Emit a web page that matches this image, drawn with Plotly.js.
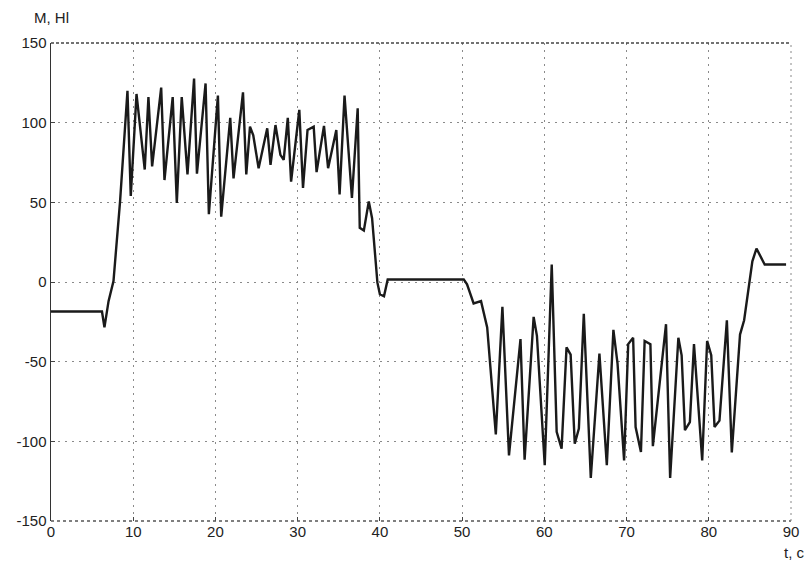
<!DOCTYPE html>
<html>
<head>
<meta charset="utf-8">
<script src="https://cdn.plot.ly/plotly-3.0.1.min.js"></script>
<style>html,body{margin:0;padding:0;background:#fff;}#chart{width:807px;height:566px;}</style>
</head>
<body>
<div id="chart"></div>
<script>
const timeS = [0,6.2,6.5,7.0,7.6,8.4,9.3,9.7,10.4,11.4,11.85,12.3,13.4,13.8,14.8,15.3,15.9,16.6,17.4,17.75,18.8,19.2,20.3,20.7,21.8,22.2,23.35,23.75,24.2,24.6,25.25,26.3,26.7,27.3,27.9,28.3,28.8,29.2,30.2,30.65,31.2,31.95,32.3,33.2,33.7,34.7,35.1,35.7,36.6,37.3,37.55,38.05,38.65,39.05,39.7,40.0,40.5,40.95,50.2,50.6,51.4,52.3,53.05,54.1,54.9,55.7,57.1,57.6,58.7,59.1,60.05,60.9,61.5,62.1,62.7,63.2,63.7,64.2,64.8,65.65,66.7,67.6,68.4,68.9,69.7,70.2,70.8,71.1,71.75,72.2,72.9,73.2,74.8,75.3,76.3,76.7,77.1,77.7,78.2,79.2,79.8,80.3,80.7,81.3,82.2,82.8,83.8,84.3,85.3,85.8,86.8,89.4];
const momentNm = [-18.5,-18.5,-28.5,-12,0.6,50.6,120,54,118,70.6,116,72.5,122,64,116,49.6,116,67.5,127.7,68,124.6,42.5,117,41,103,65,119,67.5,97.5,92,71.4,96.5,73.5,98.5,79.8,76.7,103,63,108,59,95.4,97.5,69,98,71.4,95.4,55,117,52.7,109,34,32.3,50.6,40,-0.4,-7.7,-9,1.6,1.6,-1.5,-13.5,-12,-28.5,-95.6,-15.6,-108.8,-35.8,-111.5,-21.9,-33.75,-115,11,-94,-104.6,-41,-45.6,-101.5,-92,-20,-123,-45,-115,-30,-51,-112,-39,-35,-91,-106.7,-37,-39,-103,-26.5,-123,-35,-46,-93,-88,-39,-112,-37,-46,-91,-87,-24,-107,-33,-24,13,21,11,11];
const xTicks = [0,10,20,30,40,50,60,70,80,90];
const yTicks = [-150,-100,-50,0,50,100,150];
const yLabel = "M, Hl";
const xLabel = "t, c";

const trace = {
  x: timeS, y: momentNm, type: 'scatter', mode: 'lines',
  line: {color: '#1a1a1a', width: 2.4}, hoverinfo: 'skip'
};
const axFont = {family: 'Liberation Sans, Arial, sans-serif', size: 15, color: '#222'};
const layout = {
  width: 807, height: 566,
  margin: {l: 51, r: 16, t: 43, b: 45},
  paper_bgcolor: '#fff', plot_bgcolor: '#fff',
  showlegend: false,
  xaxis: {
    range: [0, 90], tickvals: xTicks, ticktext: xTicks.map(String),
    showgrid: true, gridcolor: '#8a8a8a', griddash: '2px,5px', gridwidth: 1,
    zeroline: false, showline: false,
    ticks: 'inside', ticklen: 4, tickcolor: '#444',
    tickfont: axFont, ticklabelstandoff: 0
  },
  yaxis: {
    range: [-150, 150], tickvals: yTicks, ticktext: yTicks.map(String),
    showgrid: true, gridcolor: '#8a8a8a', griddash: '2px,5px', gridwidth: 1,
    zeroline: false, showline: true, linecolor: '#333', linewidth: 1.5,
    ticks: 'inside', ticklen: 4, tickcolor: '#444',
    tickfont: axFont
  },
  shapes: [
    {type: 'line', xref: 'paper', yref: 'paper', x0: 0, x1: 1, y0: 1, y1: 1, line: {color: '#444', width: 1.5, dash: '3px,2px'}},
    {type: 'line', xref: 'paper', yref: 'paper', x0: 0, x1: 1, y0: 0, y1: 0, line: {color: '#555', width: 1.5, dash: '3px,3px'}},
    {type: 'line', xref: 'paper', yref: 'paper', x0: 1, x1: 1, y0: 0, y1: 1, line: {color: '#888', width: 1, dash: '2px,4px'}}
  ],
  annotations: [
    {text: yLabel, xref: 'paper', yref: 'paper', x: 0, y: 1, xshift: -19, yshift: 26, xanchor: 'left', yanchor: 'middle', showarrow: false, font: axFont},
    {text: xLabel, xref: 'paper', yref: 'paper', x: 1, y: 0, xshift: 16, yshift: -31, xanchor: 'right', yanchor: 'middle', showarrow: false, font: axFont}
  ]
};
Plotly.newPlot('chart', [trace], layout, {displayModeBar: false, staticPlot: true});
</script>
</body>
</html>
